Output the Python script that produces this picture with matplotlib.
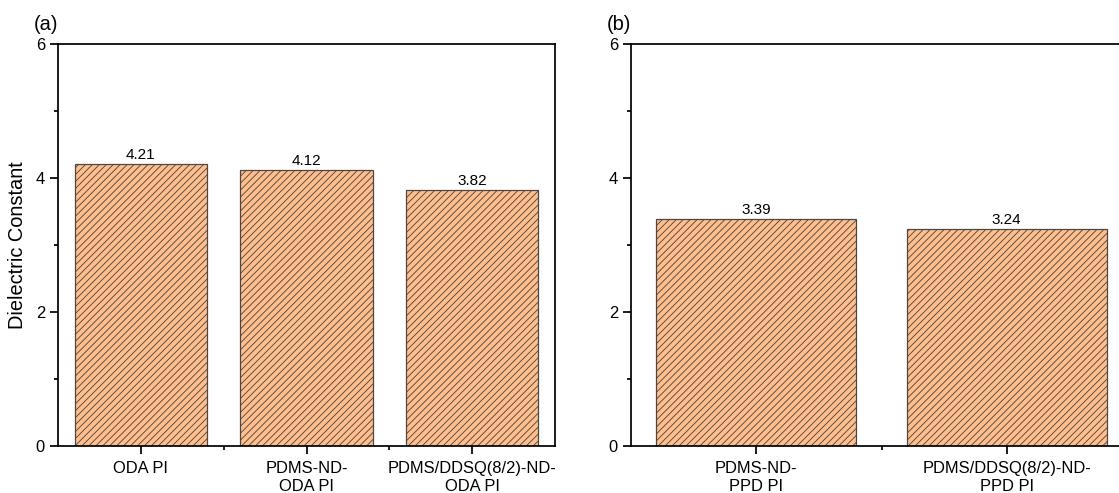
import numpy as np
import matplotlib.pyplot as plt
from matplotlib.ticker import MultipleLocator, FixedLocator

plt.rcParams['font.family'] = ['Liberation Sans', 'DejaVu Sans']
plt.rcParams['hatch.linewidth'] = 0.5

# data
labels_a = ['ODA PI', 'PDMS-ND-\nODA PI', 'PDMS/DDSQ(8/2)-ND-\nODA PI']
values_a = [4.21, 4.12, 3.82]
labels_b = ['PDMS-ND-\nPPD PI', 'PDMS/DDSQ(8/2)-ND-\nPPD PI']
values_b = [3.39, 3.24]

dpi = 125
fig = plt.figure(figsize=(1119 / dpi, 493 / dpi), dpi=dpi)

W, H = 1119, 493
bot = (H - 446) / H
top = (H - 44) / H
ax_a = fig.add_axes([58 / W, bot, (555 - 58) / W, top - bot])
ax_b = fig.add_axes([631 / W, bot, (1132 - 631) / W, top - bot])

fill = '#FFBE8C'
edge = '#4d4540'

def draw_panel(ax, labels, values, tag):
    x = np.arange(len(values))
    ax.bar(x, values, width=0.8, color=fill, edgecolor=edge,
           linewidth=0.7, hatch='//////')
    for xi, v in zip(x, values):
        ax.text(xi, v + 0.03, '%.2f' % v, ha='center', va='bottom', fontsize=8.8)
    ax.set_xlim(-0.5, len(values) - 0.5)
    ax.set_ylim(0, 6)
    ax.set_xticks(x)
    ax.set_xticklabels(labels, fontsize=9.5, linespacing=1.3)
    ax.xaxis.set_minor_locator(FixedLocator(x[:-1] + 0.5))
    ax.yaxis.set_major_locator(MultipleLocator(2))
    ax.yaxis.set_minor_locator(MultipleLocator(1))
    ax.tick_params(axis='both', which='major', direction='out', length=4.5,
                   width=1.0, labelsize=9.5, pad=3)
    ax.tick_params(axis='x', which='major', pad=4)
    ax.tick_params(axis='both', which='minor', direction='out', length=2.5,
                   width=1.0)
    for s in ax.spines.values():
        s.set_linewidth(1.0)
    ax.text(0.0, 1.025, tag, transform=ax.transAxes,
            fontsize=11.5, ha='right', va='bottom')

draw_panel(ax_a, labels_a, values_a, '(a)')
draw_panel(ax_b, labels_b, values_b, '(b)')
ax_a.set_ylabel('Dielectric Constant', fontsize=11.5, labelpad=5)

fig.savefig('out.png', dpi=dpi)
